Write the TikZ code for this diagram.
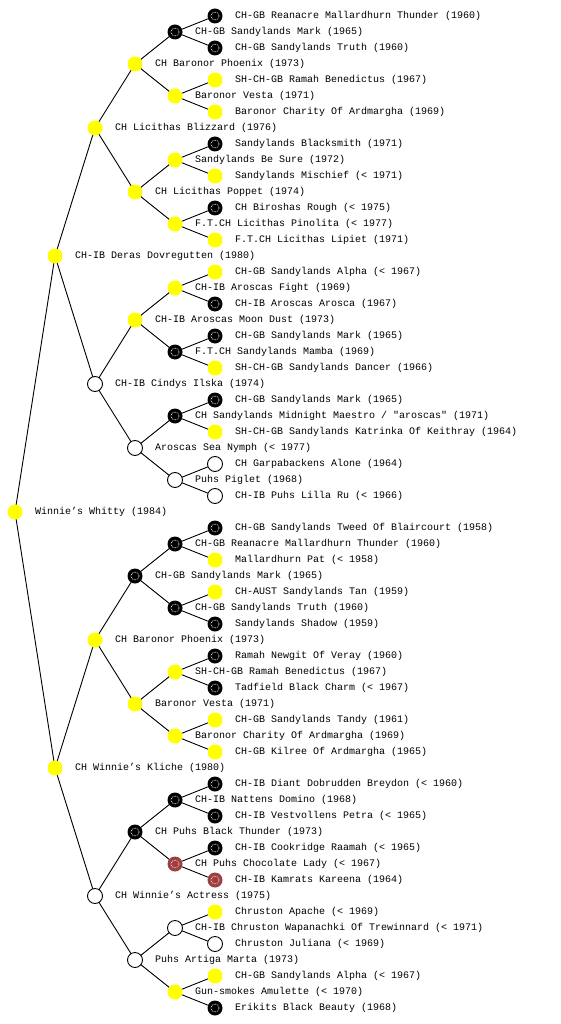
\documentclass[tikz,border=0pt]{standalone}
\usepackage{fontspec}
\usetikzlibrary{backgrounds}
\newfontfamily\pedfont{Liberation Mono}
\definecolor{pedyellow}{RGB}{255,255,0}
\definecolor{pedbrown}{RGB}{158,62,62}
\tikzset{
  dot/.style={circle, minimum size=15pt, inner sep=0pt, outer sep=0pt},
  yel/.style={dot, fill=pedyellow},
  blk/.style={dot, fill=black, path picture={\draw[white, densely dotted, line width=0.7pt] (path picture bounding box.center) circle (4pt);}},
  brn/.style={dot, fill=pedbrown, path picture={\draw[white, densely dotted, line width=0.7pt] (path picture bounding box.center) circle (4pt);}},
  wht/.style={dot, draw=black, fill=white, line width=0.9pt},
  lbl/.style={anchor=west, inner sep=0pt, font=\pedfont\fontsize{10}{12}\selectfont},
  pededge/.style={draw=black, line width=0.9pt}
}
\newcommand\pednode[5]{\node[#4] (n#1) at (#2,#3) {}; \node[lbl] (t#1) at ([xshift=20pt]n#1.center) {#5};}
\begin{document}
\begin{tikzpicture}[x=1pt,y=1pt]
\useasboundingbox (0,0) rectangle (560,-1024);
\pednode{0}{215}{-16}{blk}{CH-GB Reanacre Mallardhurn Thunder (1960)}
\pednode{1}{175}{-32}{blk}{CH-GB Sandylands Mark (1965)}
\pednode{2}{215}{-48}{blk}{CH-GB Sandylands Truth (1960)}
\pednode{3}{135}{-64}{yel}{CH Baronor Phoenix (1973)}
\pednode{4}{215}{-80}{yel}{SH-CH-GB Ramah Benedictus (1967)}
\pednode{5}{175}{-96}{yel}{Baronor Vesta (1971)}
\pednode{6}{215}{-112}{yel}{Baronor Charity Of Ardmargha (1969)}
\pednode{7}{95}{-128}{yel}{CH Licithas Blizzard (1976)}
\pednode{8}{215}{-144}{blk}{Sandylands Blacksmith (1971)}
\pednode{9}{175}{-160}{yel}{Sandylands Be Sure (1972)}
\pednode{10}{215}{-176}{yel}{Sandylands Mischief (< 1971)}
\pednode{11}{135}{-192}{yel}{CH Licithas Poppet (1974)}
\pednode{12}{215}{-208}{blk}{CH Biroshas Rough (< 1975)}
\pednode{13}{175}{-224}{yel}{F.T.CH Licithas Pinolita (< 1977)}
\pednode{14}{215}{-240}{yel}{F.T.CH Licithas Lipiet (1971)}
\pednode{15}{55}{-256}{yel}{CH-IB Deras Dovregutten (1980)}
\pednode{16}{215}{-272}{yel}{CH-GB Sandylands Alpha (< 1967)}
\pednode{17}{175}{-288}{yel}{CH-IB Aroscas Fight (1969)}
\pednode{18}{215}{-304}{blk}{CH-IB Aroscas Arosca (1967)}
\pednode{19}{135}{-320}{yel}{CH-IB Aroscas Moon Dust (1973)}
\pednode{20}{215}{-336}{blk}{CH-GB Sandylands Mark (1965)}
\pednode{21}{175}{-352}{blk}{F.T.CH Sandylands Mamba (1969)}
\pednode{22}{215}{-368}{yel}{SH-CH-GB Sandylands Dancer (1966)}
\pednode{23}{95}{-384}{wht}{CH-IB Cindys Ilska (1974)}
\pednode{24}{215}{-400}{blk}{CH-GB Sandylands Mark (1965)}
\pednode{25}{175}{-416}{blk}{CH Sandylands Midnight Maestro / "aroscas" (1971)}
\pednode{26}{215}{-432}{yel}{SH-CH-GB Sandylands Katrinka Of Keithray (1964)}
\pednode{27}{135}{-448}{wht}{Aroscas Sea Nymph (< 1977)}
\pednode{28}{215}{-464}{wht}{CH Garpabackens Alone (1964)}
\pednode{29}{175}{-480}{wht}{Puhs Piglet (1968)}
\pednode{30}{215}{-496}{wht}{CH-IB Puhs Lilla Ru (< 1966)}
\pednode{31}{15}{-512}{yel}{Winnie’s Whitty (1984)}
\pednode{32}{215}{-528}{blk}{CH-GB Sandylands Tweed Of Blaircourt (1958)}
\pednode{33}{175}{-544}{blk}{CH-GB Reanacre Mallardhurn Thunder (1960)}
\pednode{34}{215}{-560}{yel}{Mallardhurn Pat (< 1958)}
\pednode{35}{135}{-576}{blk}{CH-GB Sandylands Mark (1965)}
\pednode{36}{215}{-592}{yel}{CH-AUST Sandylands Tan (1959)}
\pednode{37}{175}{-608}{blk}{CH-GB Sandylands Truth (1960)}
\pednode{38}{215}{-624}{blk}{Sandylands Shadow (1959)}
\pednode{39}{95}{-640}{yel}{CH Baronor Phoenix (1973)}
\pednode{40}{215}{-656}{blk}{Ramah Newgit Of Veray (1960)}
\pednode{41}{175}{-672}{yel}{SH-CH-GB Ramah Benedictus (1967)}
\pednode{42}{215}{-688}{blk}{Tadfield Black Charm (< 1967)}
\pednode{43}{135}{-704}{yel}{Baronor Vesta (1971)}
\pednode{44}{215}{-720}{yel}{CH-GB Sandylands Tandy (1961)}
\pednode{45}{175}{-736}{yel}{Baronor Charity Of Ardmargha (1969)}
\pednode{46}{215}{-752}{yel}{CH-GB Kilree Of Ardmargha (1965)}
\pednode{47}{55}{-768}{yel}{CH Winnie’s Kliche (1980)}
\pednode{48}{215}{-784}{blk}{CH-IB Diant Dobrudden Breydon (< 1960)}
\pednode{49}{175}{-800}{blk}{CH-IB Nattens Domino (1968)}
\pednode{50}{215}{-816}{blk}{CH-IB Vestvollens Petra (< 1965)}
\pednode{51}{135}{-832}{blk}{CH Puhs Black Thunder (1973)}
\pednode{52}{215}{-848}{blk}{CH-IB Cookridge Raamah (< 1965)}
\pednode{53}{175}{-864}{brn}{CH Puhs Chocolate Lady (< 1967)}
\pednode{54}{215}{-880}{brn}{CH-IB Kamrats Kareena (1964)}
\pednode{55}{95}{-896}{wht}{CH Winnie’s Actress (1975)}
\pednode{56}{215}{-912}{yel}{Chruston Apache (< 1969)}
\pednode{57}{175}{-928}{wht}{CH-IB Chruston Wapanachki Of Trewinnard (< 1971)}
\pednode{58}{215}{-944}{wht}{Chruston Juliana (< 1969)}
\pednode{59}{135}{-960}{wht}{Puhs Artiga Marta (1973)}
\pednode{60}{215}{-976}{yel}{CH-GB Sandylands Alpha (< 1967)}
\pednode{61}{175}{-992}{yel}{Gun-smokes Amulette (< 1970)}
\pednode{62}{215}{-1008}{blk}{Erikits Black Beauty (1968)}
\begin{scope}[on background layer]
\foreach \a/\b in {31/15,31/47,15/7,15/23,47/39,47/55,
  7/3,7/11,23/19,23/27,39/35,39/43,55/51,55/59,
  3/1,3/5,11/9,11/13,19/17,19/21,27/25,27/29,35/33,35/37,43/41,43/45,51/49,51/53,59/57,59/61,
  1/0,1/2,5/4,5/6,9/8,9/10,13/12,13/14,17/16,17/18,21/20,21/22,25/24,25/26,29/28,29/30,
  33/32,33/34,37/36,37/38,41/40,41/42,45/44,45/46,49/48,49/50,53/52,53/54,57/56,57/58,61/60,61/62}
  \draw[pededge] (n\a.center) -- (n\b.center);
\end{scope}
\end{tikzpicture}
\end{document}
